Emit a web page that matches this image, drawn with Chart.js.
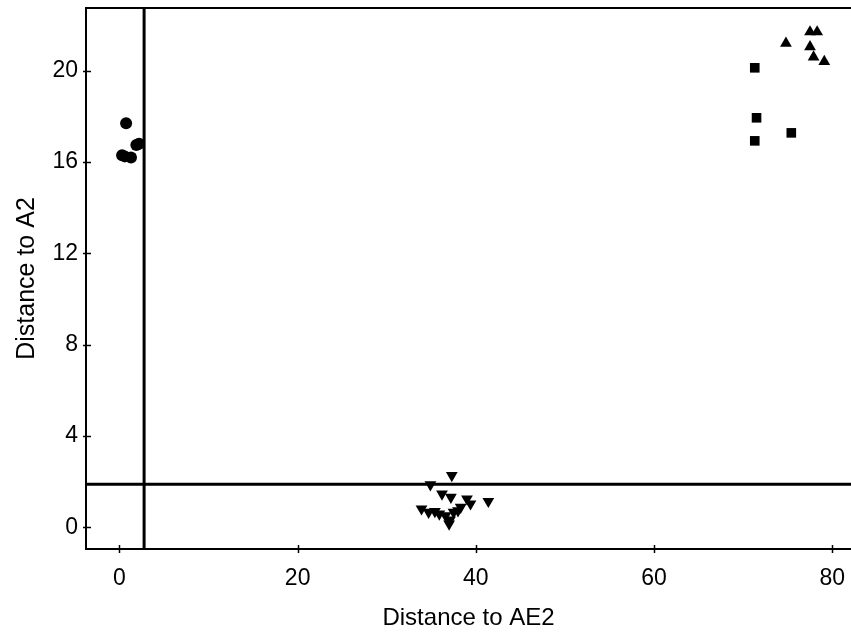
<!DOCTYPE html>
<html>
<head>
<meta charset="utf-8">
<script src="https://cdn.jsdelivr.net/npm/chart.js@4/dist/chart.umd.min.js"></script>
<style>
    html, body { margin: 0; padding: 0; background: #fff; overflow: hidden; }
    #scatter { display: block; }
</style>
</head>
<body>
<canvas id="scatter" width="851" height="637"></canvas>
<script>
    // Data (x = distance to AE2, y = distance to A2)
    const circleX = [0.75, 0.3, 0.6, 1.3, 1.9, 2.2];
    const circleY = [17.7, 16.3, 16.25, 16.2, 16.75, 16.8];

    const invTriX = [37.3, 34.9, 36.2, 37.2, 39.0, 39.4, 41.4, 33.9, 34.7, 35.4, 35.9, 36.6, 37.1, 37.0, 38.0, 38.3, 37.5];
    const invTriY = [2.27, 1.87, 1.46, 1.32, 1.25, 1.03, 1.14, 0.81, 0.66, 0.70, 0.59, 0.51, 0.32, 0.15, 0.73, 0.88, 0.66];

    const squareX = [71.3, 71.5, 75.4, 71.3];
    const squareY = [20.13, 17.94, 17.28, 16.93];

    const triX = [77.5, 78.3, 74.8, 77.5, 77.9, 79.1];
    const triY = [21.7, 21.7, 21.2, 21.05, 20.6, 20.4];

    // Cut-off lines
    const cutX = 2.77;
    const cutY = 1.89;

    // Axes
    const xRange = [-3.75, 82.1];
    const yRange = [-0.95, 22.75];
    const xTicks = [0, 20, 40, 60, 80];
    const yTicks = [0, 4, 8, 12, 16, 20];

    function pts(xs, ys) {
        return xs.map(function (x, i) { return {x: x, y: ys[i]}; });
    }

    // Axis lines, crossing tick marks, top border and cut-off lines
    const framePlugin = {
        id: 'frame',
        afterDatasetsDraw: function (chart) {
            const ctx = chart.ctx;
            const a = chart.chartArea;
            const xs = chart.scales.x;
            const ys = chart.scales.y;
            ctx.save();
            ctx.strokeStyle = '#000';
            ctx.lineCap = 'butt';

            ctx.lineWidth = 2;
            ctx.beginPath();
            ctx.moveTo(a.right, a.top);
            ctx.lineTo(a.left, a.top);
            ctx.lineTo(a.left, a.bottom);
            ctx.lineTo(a.right, a.bottom);
            ctx.stroke();

            ctx.lineWidth = 1.5;
            xTicks.forEach(function (v) {
                const px = Math.round(xs.getPixelForValue(v)) + 0.5;
                ctx.beginPath();
                ctx.moveTo(px, a.bottom - 4);
                ctx.lineTo(px, a.bottom + 4);
                ctx.stroke();
            });
            yTicks.forEach(function (v) {
                const py = Math.round(ys.getPixelForValue(v)) + 0.5;
                ctx.beginPath();
                ctx.moveTo(a.left - 3, py);
                ctx.lineTo(a.left + 5, py);
                ctx.stroke();
            });

            ctx.lineWidth = 3;
            const cx = xs.getPixelForValue(cutX);
            const cy = ys.getPixelForValue(cutY);
            ctx.beginPath();
            ctx.moveTo(cx, a.top);
            ctx.lineTo(cx, a.bottom);
            ctx.moveTo(a.left, cy);
            ctx.lineTo(a.right, cy);
            ctx.stroke();
            ctx.restore();
        }
    };

    Chart.defaults.font.family = '"Liberation Sans", Arial, sans-serif';
    Chart.defaults.color = '#000';

    const ctx = document.getElementById('scatter').getContext('2d');
    const myChart = new Chart(ctx, {
        type: 'scatter',
        data: {
            datasets: [{
                    data: pts(circleX, circleY),
                    pointStyle: 'circle',
                    pointRadius: 6
                },
                {
                    data: pts(invTriX, invTriY),
                    pointStyle: 'triangle',
                    rotation: 180,
                    pointRadius: 6.8
                },
                {
                    data: pts(squareX, squareY),
                    pointStyle: 'rect',
                    pointRadius: 6.8
                },
                {
                    data: pts(triX, triY),
                    pointStyle: 'triangle',
                    pointRadius: 6.8
                }
            ]
        },
        options: {
            responsive: false,
            animation: false,
            layout: {
                autoPadding: false,
                padding: {top: 8, right: 0, left: 0, bottom: 0}
            },
            elements: {
                point: {
                    backgroundColor: '#000',
                    borderColor: '#000',
                    borderWidth: 0,
                    hoverRadius: 7
                }
            },
            scales: {
                x: {
                    type: 'linear',
                    min: xRange[0],
                    max: xRange[1],
                    grid: { display: false, drawTicks: false },
                    border: { display: false },
                    ticks: { padding: 16, font: { size: 23 } },
                    afterBuildTicks: function (scale) {
                        scale.ticks = xTicks.map(function (v) { return {value: v}; });
                    },
                    afterFit: function (scale) {
                        scale.height = 88;
                        scale.paddingLeft = 0;
                        scale.paddingRight = 0;
                    },
                    title: {
                        display: true,
                        text: 'Distance to AE2',
                        font: { size: 24 },
                        padding: { top: 0, bottom: 4 }
                    }
                },
                y: {
                    type: 'linear',
                    min: yRange[0],
                    max: yRange[1],
                    grid: { display: false, drawTicks: false },
                    border: { display: false },
                    ticks: { padding: 8, font: { size: 23 } },
                    afterBuildTicks: function (scale) {
                        scale.ticks = yTicks.map(function (v) { return {value: v}; });
                    },
                    afterFit: function (scale) {
                        scale.width = 86;
                        scale.paddingTop = 0;
                        scale.paddingBottom = 0;
                    },
                    title: {
                        display: true,
                        text: 'Distance to A2',
                        font: { size: 25 },
                        padding: { top: 12, bottom: 0 }
                    }
                }
            },
            plugins: {
                legend: { display: false },
                tooltip: { enabled: false }
            }
        },
        plugins: [framePlugin]
    });
</script>
</body>
</html>
